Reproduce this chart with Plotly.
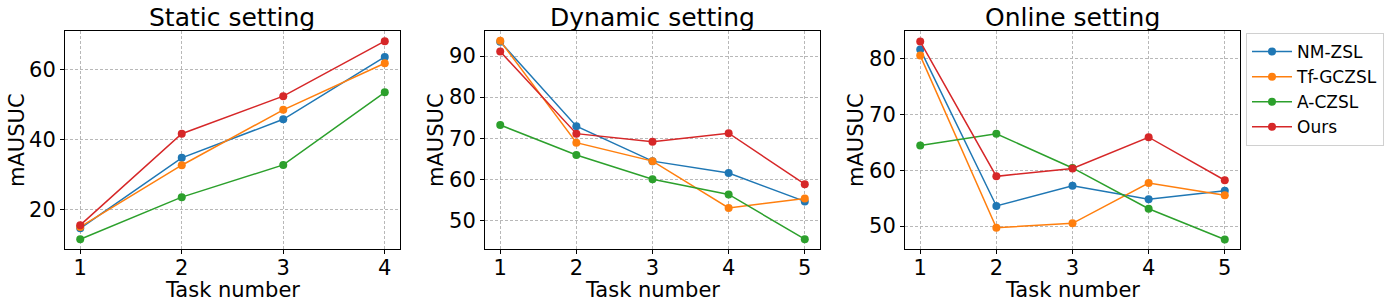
import plotly.graph_objects as go

W, H = 1390, 308

methods = ["NM-ZSL", "Tf-GCZSL", "A-CZSL", "Ours"]
colors = ["#1f77b4", "#ff7f0e", "#2ca02c", "#d62728"]

static_tasks = [1, 2, 3, 4]
static_nm = [14.6, 34.7, 45.7, 63.5]
static_tf = [15.0, 32.6, 48.4, 61.7]
static_ac = [11.5, 23.5, 32.7, 53.4]
static_ours = [15.5, 41.6, 52.3, 68.0]

dyn_tasks = [1, 2, 3, 4, 5]
dyn_nm = [93.5, 72.9, 64.4, 61.5, 54.6]
dyn_tf = [93.7, 68.9, 64.4, 53.0, 55.3]
dyn_ac = [73.2, 65.9, 60.0, 56.3, 45.4]
dyn_ours = [91.1, 71.1, 69.1, 71.2, 58.8]

onl_tasks = [1, 2, 3, 4, 5]
onl_nm = [81.6, 53.6, 57.2, 54.8, 56.3]
onl_tf = [80.5, 49.7, 50.5, 57.7, 55.5]
onl_ac = [64.4, 66.5, 60.4, 53.1, 47.6]
onl_ours = [83.0, 58.9, 60.3, 65.9, 58.2]

titles = ["Static setting", "Dynamic setting", "Online setting"]
panels = [
    (static_tasks, [static_nm, static_tf, static_ac, static_ours], [0.85, 4.15], [8.7, 70.9], [20, 40, 60]),
    (dyn_tasks, [dyn_nm, dyn_tf, dyn_ac, dyn_ours], [0.8, 5.2], [43.0, 96.1], [50, 60, 70, 80, 90]),
    (onl_tasks, [onl_nm, onl_tf, onl_ac, onl_ours], [0.8, 5.2], [45.9, 84.9], [50, 60, 70, 80]),
]
xpix = [(65, 400), (485, 820), (905, 1240)]
ylabel_x = [17, 436, 856]
ytop, ybot = 31, 249

FONT = "DejaVu Sans"
fig = go.Figure()

for i, (tasks, series, xr, yr, yt) in enumerate(panels):
    xa = "x" if i == 0 else f"x{i+1}"
    ya = "y" if i == 0 else f"y{i+1}"
    for j, (name, vals) in enumerate(zip(methods, series)):
        fig.add_trace(go.Scatter(
            x=tasks, y=vals, mode="lines+markers", name=name,
            line=dict(color=colors[j], width=1.5),
            marker=dict(color=colors[j], size=8),
            xaxis=xa, yaxis=ya, showlegend=(i == 2), legendgroup=name,
        ))
    axcommon = dict(showline=True, linecolor="black", linewidth=1, mirror=True,
                    ticks="outside", ticklen=4, tickcolor="black", automargin=False,
                    showgrid=True, gridcolor="#b8b8b8", griddash="3px,2px", gridwidth=0.8,
                    zeroline=False, tickfont=dict(family=FONT, size=21, color="black"))
    fig.layout[("xaxis" if i == 0 else f"xaxis{i+1}")] = dict(
        domain=[xpix[i][0] / W, xpix[i][1] / W], range=xr, anchor=ya,
        tickvals=tasks, ticklabelstandoff=-4, **axcommon)
    fig.layout[("yaxis" if i == 0 else f"yaxis{i+1}")] = dict(
        domain=[1 - ybot / H, 1 - ytop / H], range=yr, anchor=xa,
        tickvals=yt, **axcommon)
    fig.add_annotation(text=titles[i], xref="paper", yref="paper",
                       x=(xpix[i][0] + xpix[i][1]) / 2 / W, y=1 - 18 / H,
                       xanchor="center", yanchor="middle", showarrow=False,
                       font=dict(family=FONT, size=25, color="black"))
    fig.add_annotation(text="Task number", xref="paper", yref="paper",
                       x=(xpix[i][0] + xpix[i][1]) / 2 / W, y=1 - 290 / H,
                       xanchor="center", yanchor="middle", showarrow=False,
                       font=dict(family=FONT, size=21, color="black"))
    fig.add_annotation(text="mAUSUC", xref="paper", yref="paper", textangle=-90,
                       x=ylabel_x[i] / W, y=1 - 140 / H,
                       xanchor="center", yanchor="middle", showarrow=False,
                       font=dict(family=FONT, size=21, color="black"))

fig.update_layout(
    width=W, height=H, margin=dict(l=0, r=0, t=0, b=0),
    plot_bgcolor="white", paper_bgcolor="white",
    legend=dict(x=1246 / W, y=1 - 33 / H, xanchor="left", yanchor="top",
                bordercolor="#d0d0d0", borderwidth=1, bgcolor="white",
                font=dict(family=FONT, size=17, color="black"),
                itemwidth=40, tracegroupgap=0),
)

fig.write_html("out.html", config={"displayModeBar": False},
               post_script="document.body.style.margin='0px';document.body.style.overflow='hidden';")
